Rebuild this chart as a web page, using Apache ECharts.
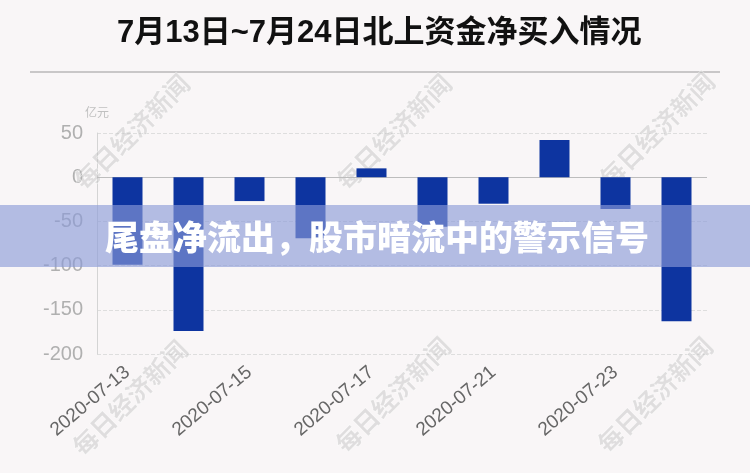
<!DOCTYPE html>
<html><head><meta charset="utf-8">
<script src="https://cdn.jsdelivr.net/npm/echarts@6/dist/echarts.min.js"></script>
<style>html,body{margin:0;padding:0;background:#f9f6f7}#c{width:750px;height:473px}</style>
</head><body><div id="c"></div>
<script>
const titleText = '7月13日~7月24日北上资金净买入情况';
const bannerText = '尾盘净流出，股市暗流中的警示信号';
const unitName = '亿元';
const categories = ['2020-07-13','2020-07-14','2020-07-15','2020-07-16','2020-07-17','2020-07-20','2020-07-21','2020-07-22','2020-07-23','2020-07-24'];
const netBuy = [-99, -174, -27, -69, 10, -56, -30, 42, -36, -163];
const watermark = '每日经济新闻';
const wmPositions = [[132,132],[394,132],[657,130],[130,398],[393,395],[655,395]];

const chart = echarts.init(document.getElementById('c'));
const wm = wmPositions.map(p => ({
  type:'text', x:p[0], y:p[1], rotation: Math.PI/4, z: 1,
  style:{text:watermark, fontSize:25, fontWeight:'bold', fontFamily:'Noto Sans CJK SC',
    fill:'rgba(185,185,185,0.4)', stroke:'rgba(255,255,255,0.6)', lineWidth:1,
    align:'center', verticalAlign:'middle'}
}));
chart.setOption({
  backgroundColor:'#f9f6f7',
  animation:false,
  title:{text:titleText, left:112, top:13,
    textStyle:{fontSize:31, fontWeight:'bold', color:'#111', fontFamily:'Liberation Sans, Noto Sans CJK SC'}},
  grid:{left:97, right:43, top:133, bottom:119},
  xAxis:{type:'category', data:categories,
    axisLine:{show:false, onZero:false}, axisTick:{show:false},
    axisLabel:{interval:1, rotate:40, margin:16, fontSize:19, color:'#666', fontFamily:'Liberation Sans'}},
  yAxis:{type:'value', min:-200, max:50, interval:50,
    name:unitName, nameGap:15, nameTextStyle:{fontSize:12, color:'#c0c0c0', fontFamily:'Noto Sans CJK SC'},
    axisLine:{show:true, lineStyle:{color:'#d4d4d4'}}, axisTick:{show:false},
    axisLabel:{fontSize:20, color:'#b0b0b0', margin:14, fontFamily:'Liberation Sans'},
    splitLine:{lineStyle:{type:'dashed', color:'#dedede'}}},
  series:[{type:'bar', data:netBuy, barWidth:30, z:5, itemStyle:{color:'#0d34a0'},
    markLine:{silent:true, symbol:'none', label:{show:false},
      lineStyle:{type:'solid', color:'#bdbdbd', width:1}, data:[{yAxis:0}]}}],
  graphic:[
    {type:'line', shape:{x1:30,y1:72,x2:720,y2:72}, style:{stroke:'#c9c7c8', lineWidth:2}},
    ...wm,
    {type:'rect', shape:{x:0,y:205,width:750,height:62}, z:200,
      style:{fill:'rgba(140,155,216,0.64)'}},
    {type:'text', x:105, y:237, z:201,
      style:{text:bannerText, fontSize:34, fontWeight:900, fontFamily:'Noto Sans CJK SC',
        fill:'#ffffff', verticalAlign:'middle', align:'left'}}
  ]
});
</script></body></html>
